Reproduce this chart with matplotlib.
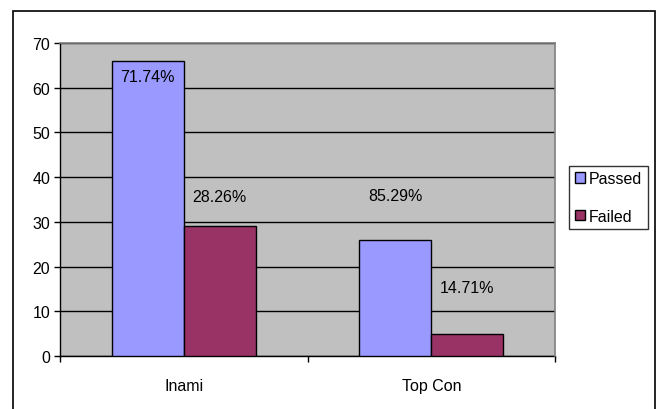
import numpy as np
import matplotlib.pyplot as plt
from matplotlib.patches import Rectangle

plt.rcParams['font.family'] = ['Liberation Sans', 'DejaVu Sans']

categories = ["Inami", "Top Con"]
passed = [66, 26]
failed = [29, 5]
passed_labels = ["71.74%", "85.29%"]
failed_labels = ["28.26%", "14.71%"]

FS = 11.5

fig = plt.figure(figsize=(6.6, 4.1), dpi=100)
W, H = 660, 410
ax = fig.add_axes([60 / W, 1 - 357 / H, (555 - 60) / W, (357 - 44) / H])

# outer chart border (bottom edge is cut off in the original)
fig.patches.append(Rectangle((12.5 / W, -10 / H), (655 - 12.5) / W, (398 + 10) / H,
                             transform=fig.transFigure, fill=False,
                             edgecolor="black", linewidth=1.2))

x = np.arange(len(categories))
w = 0.29
ax.set_facecolor("#C0C0C0")
ax.bar(x - w / 2, passed, w, color="#9999FF", edgecolor="black", linewidth=1,
       label="Passed", zorder=3)
ax.bar(x + w / 2, failed, w, color="#993366", edgecolor="black", linewidth=1,
       label="Failed", zorder=3)

# data labels, placed roughly where Excel put them
pass_y = [62.6, 36]
fail_y = [35.6, 15.4]
for i in range(len(categories)):
    ax.text(x[i] - w / 2, pass_y[i], passed_labels[i], ha="center", va="center", fontsize=FS, zorder=4)
    ax.text(x[i] + w / 2, fail_y[i], failed_labels[i], ha="center", va="center", fontsize=FS, zorder=4)

ax.set_xlim(-0.5, 1.5)
ax.set_ylim(0, 70)
ax.set_yticks(range(0, 71, 10))
ax.yaxis.grid(True, color="black", linewidth=1)
ax.set_axisbelow(True)
ax.tick_params(axis="y", length=4, width=1, labelsize=FS, direction="out", pad=3)

ax.set_xticks([-0.5, 0.5, 1.5])
ax.set_xticklabels([])
ax.set_xticks(x, minor=True)
ax.set_xticklabels(categories, minor=True, fontsize=FS)
ax.tick_params(axis="x", which="major", length=4, width=1, direction="out")
ax.tick_params(axis="x", which="minor", length=0, pad=16)

for s in ["top", "right"]:
    ax.spines[s].set_color("#808080")
    ax.spines[s].set_linewidth(1.2)
    ax.spines[s].set_zorder(5)
ax.spines["left"].set_linewidth(1)
ax.spines["bottom"].set_linewidth(1)

leg = ax.legend(loc="center left", bbox_to_anchor=(569 / W, 1 - 198.5 / H),
                bbox_transform=fig.transFigure, frameon=True, fancybox=False,
                edgecolor="black", fontsize=FS, handlelength=0.65, handleheight=0.65,
                handletextpad=0.25, borderpad=0.35, labelspacing=1.4, borderaxespad=0)
leg.get_frame().set_linewidth(1)

fig.savefig("out.png", dpi=100)
